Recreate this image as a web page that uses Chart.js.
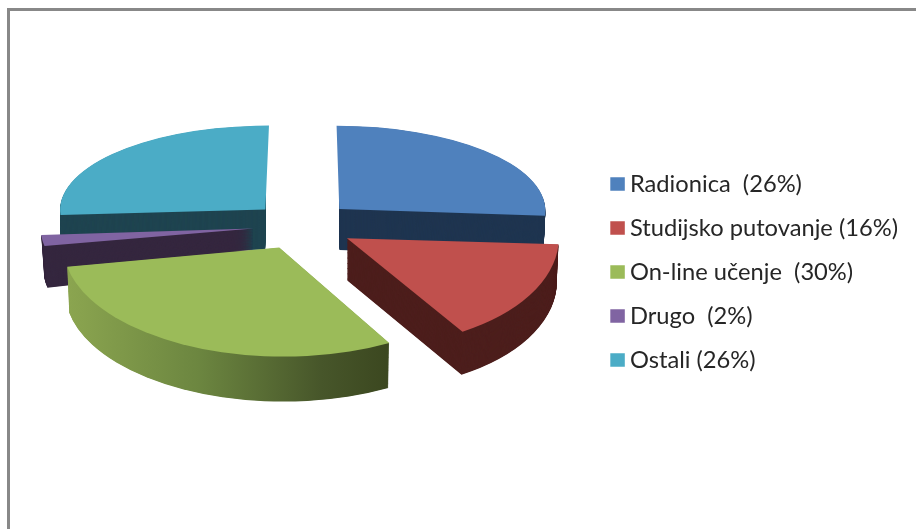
<!DOCTYPE html>
<html>
<head>
<meta charset="utf-8">
<style>
html,body{margin:0;padding:0;width:916px;height:529px;overflow:hidden;background:#fff}
#frame{position:absolute;left:7px;top:8px;width:1000px;height:1000px;border:3px solid #888;box-sizing:border-box}
#wrap{position:absolute;left:0;top:0}
</style>
<script src="https://cdn.jsdelivr.net/npm/chart.js@4"></script>
</head>
<body>
<div id="frame"></div>
<div id="wrap"><canvas id="c" width="908" height="544"></canvas></div>
<script>
// Data
const categories = ['Radionica  (26%)', 'Studijsko putovanje (16%)', 'On-line učenje  (30%)', 'Drugo  (2%)', 'Ostali (26%)'];
const shares = [26, 16, 30, 2, 26];

// Styles
const topColors = ['#4f81bd', '#c0504d', '#9bbb59', '#8064a2', '#4bacc6'];
const wallColors = ['#1f3550', '#4d1f1d', null, '#35273f', '#1f4450'];
const greenWallStops = [[0, '#8ca650'], [0.42, '#6c8640'], [0.8, '#47562a'], [1, '#3c4820']];

// 3D look, all relative to the library's pie centre
const apexDX = [40.9, 48.6, -19.1, -45.1, -33.0];
const apexDY = [-63, -33.7, -24.5, -43.5, -62.5];
const rimDX = [38.2, 74.5, -15.1, -47.6, -29.4];
const rimDY = [-61.6, -34.5, -26, -42.6, -62.3];
const rimRX = [208.8, 186, 220, 210, 208.9];
const rimRY = [84.7, 107.5, 110.6, 88.7, 84.2];
const apexDepth = [41, 42, 45, 36, 40];
const rimDepth = [41, 44, 46, 42, 40];
const rimShrink = [2, 2, 2, 3, 1];
const wallSide = [1, 1, 0, -1, -1];   // which side of the apex the extruded wall may show on
const drawOrder = [4, 0, 3, 1, 2];

function slicePath(ctx, arc, i, t) {
  const cx = arc.x, cy = arc.y;
  const k = 1 - t * rimShrink[i] / rimRX[i];
  ctx.beginPath();
  ctx.moveTo(cx + apexDX[i], cy + apexDY[i] + t * apexDepth[i]);
  ctx.ellipse(cx + rimDX[i], cy + rimDY[i] + t * rimDepth[i],
              rimRX[i] * k, rimRY[i] * k, 0, arc.startAngle, arc.endAngle);
  ctx.closePath();
}

const pie3d = {
  id: 'pie3d',
  beforeDatasetsDraw(chart) {
    const ctx = chart.ctx;
    const arcs = chart.getDatasetMeta(0).data;
    drawOrder.forEach(i => {
      const arc = arcs[i];
      let wall = wallColors[i];
      if (!wall) {
        const left = arc.x + rimDX[i] - rimRX[i];
        const right = left + 322;
        wall = ctx.createLinearGradient(left, 0, right, 0);
        greenWallStops.forEach(s => wall.addColorStop(s[0], s[1]));
      }
      ctx.save();
      if (wallSide[i]) {
        const ax = arc.x + apexDX[i];
        ctx.beginPath();
        ctx.rect(wallSide[i] > 0 ? ax : 0, 0, wallSide[i] > 0 ? chart.width : ax, chart.height);
        ctx.clip();
      }
      ctx.fillStyle = wall;
      const steps = Math.ceil(rimDepth[i] * 2);
      for (let s = steps; s >= 1; s--) {
        slicePath(ctx, arc, i, s / steps);
        ctx.fill();
      }
      ctx.restore();
      ctx.fillStyle = topColors[i];
      slicePath(ctx, arc, i, 0);
      ctx.fill();
    });
    return false;
  }
};

new Chart(document.getElementById('c'), {
  type: 'pie',
  data: {
    labels: categories,
    datasets: [{ data: shares, backgroundColor: topColors, borderWidth: 0 }]
  },
  options: {
    responsive: false,
    animation: false,
    layout: { padding: 0 },
    plugins: {
      tooltip: { enabled: false },
      legend: {
        position: 'right',
        labels: {
          color: '#262626',
          font: { family: 'Lato', size: 23.7 },
          boxWidth: 1,
          boxHeight: 0.1,
          padding: 20.3,
          generateLabels(chart) {
            return Chart.overrides.pie.plugins.legend.labels.generateLabels(chart).map(it =>
              Object.assign(it, { lineWidth: 13.5, strokeStyle: it.fillStyle, lineJoin: 'miter' }));
          }
        }
      }
    }
  },
  plugins: [pie3d]
});
</script>
</body>
</html>
